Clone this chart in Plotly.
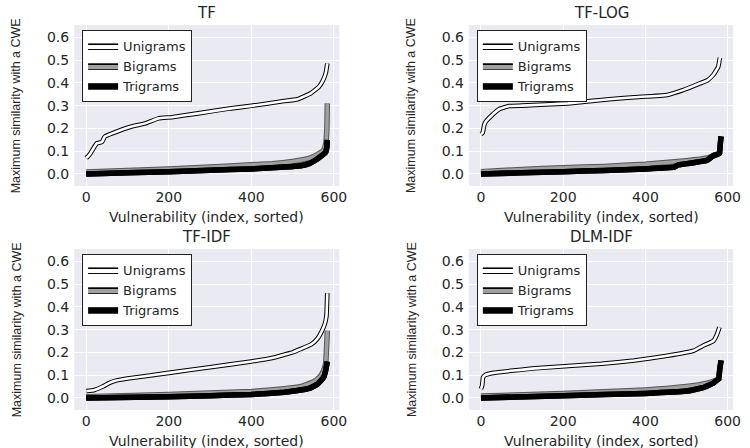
import plotly.graph_objects as go

# ---------------- data ----------------
panel_titles = ["TF", "TF-LOG", "TF-IDF", "DLM-IDF"]
series_names = ["Unigrams", "Bigrams", "Trigrams"]

# TF
tf_uni_x = [0, 3, 10, 20, 26, 38, 45, 63, 110, 143, 175, 207, 271, 351, 400, 472, 512, 544, 564, 572, 578, 581, 584]
tf_uni_y = [0.07, 0.075, 0.09, 0.12, 0.135, 0.14, 0.164, 0.178, 0.208, 0.222, 0.244, 0.249, 0.266, 0.288, 0.299, 0.318, 0.328, 0.354, 0.383, 0.405, 0.43, 0.449, 0.485]
tf_bi_x = [0, 100, 200, 300, 400, 450, 500, 540, 560, 575, 580, 583, 584]
tf_bi_y = [0.008, 0.015, 0.022, 0.03, 0.04, 0.045, 0.055, 0.068, 0.085, 0.105, 0.13, 0.2, 0.31]
tf_tri_x = [0, 100, 200, 300, 400, 480, 520, 540, 555, 570, 580, 583, 584]
tf_tri_y = [0.0, 0.005, 0.01, 0.016, 0.022, 0.03, 0.036, 0.045, 0.06, 0.08, 0.095, 0.12, 0.15]

# TF-LOG
tflog_uni_x = [0, 4, 8, 12, 28, 44, 68, 100, 212, 293, 373, 453, 493, 533, 550, 565, 577, 581]
tflog_uni_y = [0.175, 0.18, 0.215, 0.23, 0.26, 0.284, 0.298, 0.30, 0.31, 0.325, 0.337, 0.347, 0.369, 0.398, 0.41, 0.435, 0.47, 0.51]
tflog_bi_x = [0, 100, 200, 300, 400, 500, 550, 575, 584]
tflog_bi_y = [0.01, 0.02, 0.027, 0.033, 0.043, 0.058, 0.07, 0.085, 0.1]
tflog_tri_x = [0, 100, 200, 300, 400, 470, 480, 520, 550, 565, 580, 582, 584]
tflog_tri_y = [0.0, 0.005, 0.01, 0.015, 0.022, 0.03, 0.04, 0.05, 0.06, 0.08, 0.09, 0.13, 0.165]

# TF-IDF
tfidf_uni_x = [0, 20, 40, 55, 70, 100, 200, 300, 400, 450, 480, 500, 520, 545, 560, 570, 578, 582, 584]
tfidf_uni_y = [0.03, 0.035, 0.05, 0.065, 0.075, 0.085, 0.11, 0.135, 0.16, 0.175, 0.19, 0.2, 0.215, 0.235, 0.26, 0.29, 0.325, 0.36, 0.46]
tfidf_bi_x = [0, 200, 400, 480, 520, 550, 565, 575, 580, 583, 584]
tfidf_bi_y = [0.005, 0.015, 0.028, 0.04, 0.05, 0.07, 0.09, 0.12, 0.15, 0.25, 0.295]
tfidf_tri_x = [0, 200, 300, 400, 480, 520, 540, 560, 575, 580, 584]
tfidf_tri_y = [0.0, 0.005, 0.01, 0.015, 0.025, 0.035, 0.042, 0.06, 0.09, 0.12, 0.16]

# DLM-IDF
dlm_uni_x = [0, 3, 5, 10, 30, 132, 293, 373, 453, 517, 541, 565, 573, 580]
dlm_uni_y = [0.04, 0.055, 0.09, 0.1, 0.11, 0.13, 0.15, 0.164, 0.185, 0.207, 0.23, 0.25, 0.274, 0.31]
dlm_bi_x = [0, 200, 400, 500, 550, 575, 584]
dlm_bi_y = [0.008, 0.02, 0.035, 0.05, 0.065, 0.08, 0.09]
dlm_tri_x = [0, 200, 400, 500, 540, 565, 578, 581, 584]
dlm_tri_y = [0.0, 0.01, 0.02, 0.03, 0.045, 0.065, 0.085, 0.13, 0.165]

x_ticks = [0, 200, 400, 600]
y_ticks = [0.0, 0.1, 0.2, 0.3, 0.4, 0.5, 0.6]
x_label = "Vulnerability (index, sorted)"
y_label = "Maximum similarity with a CWE"

panels = [
    [(tf_uni_x, tf_uni_y), (tf_bi_x, tf_bi_y), (tf_tri_x, tf_tri_y)],
    [(tflog_uni_x, tflog_uni_y), (tflog_bi_x, tflog_bi_y), (tflog_tri_x, tflog_tri_y)],
    [(tfidf_uni_x, tfidf_uni_y), (tfidf_bi_x, tfidf_bi_y), (tfidf_tri_x, tfidf_tri_y)],
    [(dlm_uni_x, dlm_uni_y), (dlm_bi_x, dlm_bi_y), (dlm_tri_x, dlm_tri_y)],
]

# ---------------- styling ----------------
W, H = 750, 448
boxes = [(75, 343, 25, 186), (474, 741, 25, 186), (75, 343, 249, 410), (474, 741, 249, 410)]
inner_colors = ["white", "#a0a0a0", "black"]
edge_colors = ["black", "#555555", "black"]
inner_widths = [2.6, 3.5, 5.5]
edge_widths = [4.6, 5.5, 5.5]


def patch_scale(c):
    # vertical gradient: thin black border at top/bottom, colour inside
    return [[0, "black"], [0.2, "black"], [0.2, c], [0.8, c], [0.8, "black"], [1, "black"]]


TICK_FONT = dict(family="DejaVu Sans", size=14, color="#262626")
fig = go.Figure()
layout = dict(
    width=W, height=H, margin=dict(l=0, r=0, t=0, b=0),
    paper_bgcolor="white", plot_bgcolor="#EAEAF2", showlegend=True,
    annotations=[],
)

for i, (title, series) in enumerate(zip(panel_titles, panels)):
    k = "" if i == 0 else str(i + 1)
    xa, ya = "x" + k, "y" + k
    l, r, t, b = boxes[i]
    layout["xaxis" + k] = dict(
        domain=[l / W, r / W], anchor=ya, range=[-29.2, 613.2],
        tickvals=x_ticks, ticktext=[str(v) for v in x_ticks],
        showgrid=True, gridcolor="white", gridwidth=1.2, zeroline=False,
        showline=False, ticks="", tickfont=TICK_FONT, ticklabelstandoff=1,
    )
    layout["yaxis" + k] = dict(
        domain=[1 - b / H, 1 - t / H], anchor=xa, range=[-0.053, 0.654],
        tickvals=y_ticks, ticktext=["%.1f" % v for v in y_ticks],
        showgrid=True, gridcolor="white", gridwidth=1.2, zeroline=False,
        showline=False, ticks="", tickfont=TICK_FONT, ticklabelstandoff=4,
    )
    leg = "legend" if i == 0 else "legend" + str(i + 1)
    for j, (xs, ys) in enumerate(series):
        fig.add_trace(go.Scatter(x=xs, y=ys, mode="lines", xaxis=xa, yaxis=ya,
                                 line=dict(color=edge_colors[j], width=edge_widths[j], shape="spline", smoothing=0.3),
                                 showlegend=False, hoverinfo="skip"))
        fig.add_trace(go.Scatter(x=xs, y=ys, mode="lines", xaxis=xa, yaxis=ya,
                                 line=dict(color=inner_colors[j], width=inner_widths[j], shape="spline", smoothing=0.3),
                                 showlegend=False, name=series_names[j]))
    for j in range(3):
        fig.add_trace(go.Scatter(x=[None], y=[None], mode="lines", xaxis=xa, yaxis=ya,
                                 fill="toself", fillcolor=inner_colors[j],
                                 fillgradient=dict(type="vertical", colorscale=patch_scale(inner_colors[j])),
                                 line=dict(color="black", width=1),
                                 name=series_names[j], legend=leg, showlegend=True))
    layout[leg] = dict(
        x=(l + 8) / W, y=1 - (t + 5) / H, xanchor="left", yanchor="top",
        bgcolor="white", bordercolor="#222222", borderwidth=1,
        font=dict(family="DejaVu Sans", size=13, color="#262626"),
        tracegroupgap=0, itemwidth=30,
    )
    cx = (l + r) / 2
    layout["annotations"] += [
        dict(text=title, x=cx / W, y=1 - (t - 12) / H, xref="paper", yref="paper",
             showarrow=False, font=dict(family="DejaVu Sans", size=15, color="#262626"),
             xanchor="center", yanchor="middle"),
        dict(text=x_label, x=cx / W, y=1 - (b + 31) / H, xref="paper", yref="paper",
             showarrow=False, font=dict(family="DejaVu Sans", size=14, color="#262626"),
             xanchor="center", yanchor="middle"),
        dict(text=y_label, x=(l - 58) / W, y=1 - ((t + b) / 2) / H, xref="paper", yref="paper",
             showarrow=False, textangle=-90,
             font=dict(family="Liberation Sans Narrow, Liberation Sans, sans-serif", size=12.5, color="#262626"),
             xanchor="center", yanchor="middle"),
    ]

fig.update_layout(**layout)
fig.write_html("out.html", config={"displayModeBar": False},
               post_script="document.body.style.margin='0px';document.body.style.overflow='hidden';")
